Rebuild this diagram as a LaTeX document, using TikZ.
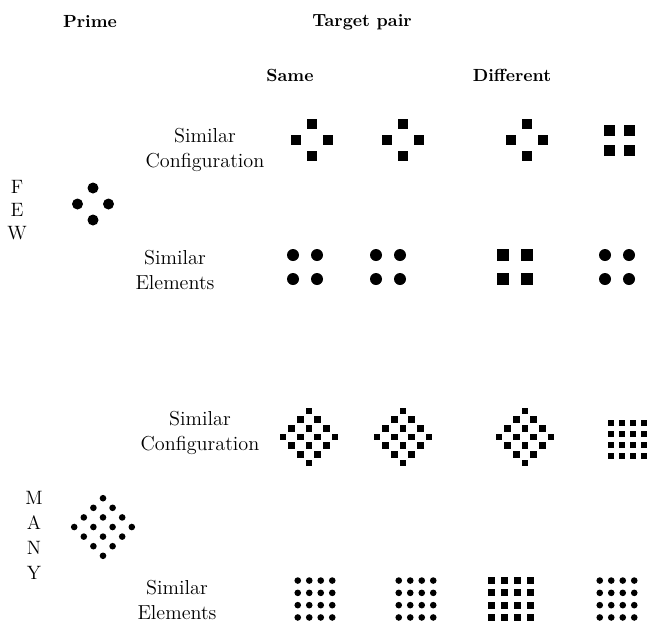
\documentclass[tikz,border=0pt]{standalone}
\usetikzlibrary{positioning}

\begin{document}
\begin{tikzpicture}[x=0.2mm,y=-0.2mm,
    head/.style={font=\fontsize{10}{12}\selectfont\bfseries,inner sep=0pt},
    lbl/.style={font=\fontsize{11.5}{14.5}\selectfont,align=center,inner sep=0pt},
    word/.style={font=\fontsize{11}{13.1}\selectfont,align=center,inner sep=0pt}]
\useasboundingbox (0,0) rectangle (650,625);

% headings
\node[head] (P) at (90,22) {Prime};
\node[head] (T) at (362,22) {Target pair};
\node[head] (S) at (290,75) {Same};
\node[head] (D) at (512,75) {Different};

% row labels
\node[word] (few) at (17,210) {F\\E\\W};
\node[word,font=\fontsize{11}{14.2}\selectfont] (many) at (34,535) {M\\A\\N\\Y};
\node[lbl] (fc) at (205,150) {Similar\\Configuration};
\node[lbl] (fe) at (175,270) {Similar\\Elements};
\node[lbl] (mc) at (200,433) {Similar\\Configuration};
\node[lbl] (me) at (177,600) {Similar\\Elements};

% FEW: prime
\foreach \dx/\dy in {0/-16,-15.5/0,15.5/0,0/16}
    \fill (93+\dx,204+\dy) circle (5.5);

% FEW: similar configuration
\foreach \cx in {312,403,527}
    \foreach \dx/\dy in {0/-16,-16/0,16/0,0/16}
        \fill (\cx+\dx-5,140+\dy-5) rectangle ++(10,10);
\foreach \dx in {-10,10}
    \foreach \dy in {-10,10}
        \fill (619+\dx-5.5,140+\dy-5.5) rectangle ++(11,11);

% FEW: similar elements
\foreach \cx in {305,388,617}
    \foreach \dx in {-12,12}
        \foreach \dy in {-12,12}
            \fill (\cx+\dx,267+\dy) circle (6);
\foreach \dx in {-12,12}
    \foreach \dy in {-12,12}
        \fill (515+\dx-6,267+\dy-6) rectangle ++(12,12);

% MANY: prime
\foreach \i in {0,...,3}
    \foreach \j in {0,...,3}
        \fill (103+9.6*\i-9.6*\j,527+9.6*\i+9.6*\j-28.8) circle (3.3);

% MANY: similar configuration
\foreach \cx in {309,403,525}
    \foreach \i in {0,...,3}
        \foreach \j in {0,...,3}
            \fill (\cx+8.7*\i-8.7*\j-3.25,437+8.7*\i+8.7*\j-26.1-3.25) rectangle ++(6.5,6.5);
\foreach \i in {0,...,3}
    \foreach \j in {0,...,3}
        \fill (627.5+11*\i-16.5-3,439+11*\j-16.5-3) rectangle ++(6,6);

% MANY: similar elements
\foreach \cx in {315,416,617}
    \foreach \i in {0,...,3}
        \foreach \j in {0,...,3}
            \fill (\cx+11.5*\i-17.25,599+12.3*\j-18.45) circle (3.3);
\foreach \i in {0,...,3}
    \foreach \j in {0,...,3}
        \fill (511+12.8*\i-19.2-3.5,599+12.3*\j-18.45-3.5) rectangle ++(7,7);
\end{tikzpicture}
\end{document}
